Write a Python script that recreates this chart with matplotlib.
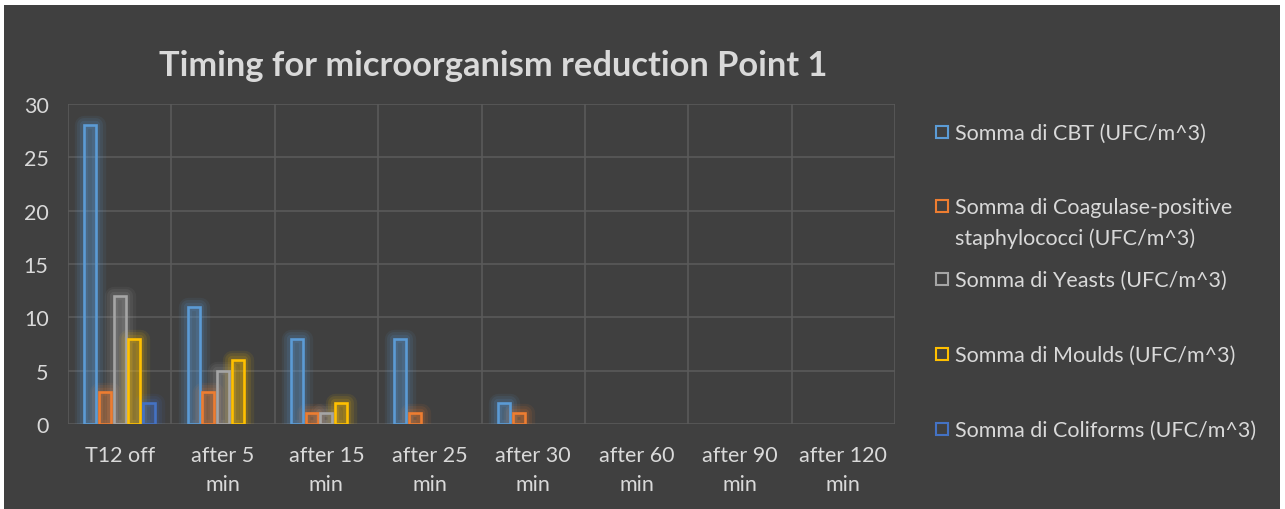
import numpy as np
import matplotlib.pyplot as plt
from matplotlib.patches import Rectangle

plt.rcParams['font.family'] = ['Lato', 'DejaVu Sans']

categories = ['T12 off', 'after 5\nmin', 'after 15\nmin', 'after 25\nmin',
              'after 30\nmin', 'after 60\nmin', 'after 90\nmin', 'after 120\nmin']
cbt = [28, 11, 8, 8, 2, 0, 0, 0]
coag = [3, 3, 1, 1, 1, 0, 0, 0]
yeasts = [12, 5, 1, 0, 0, 0, 0, 0]
moulds = [8, 6, 2, 0, 0, 0, 0, 0]
coliforms = [2, 0, 0, 0, 0, 0, 0, 0]
series = [cbt, coag, yeasts, moulds, coliforms]
names = ['Somma di CBT (UFC/m^3)',
         'Somma di Coagulase-positive\nstaphylococci (UFC/m^3)',
         'Somma di Yeasts (UFC/m^3)',
         'Somma di Moulds (UFC/m^3)',
         'Somma di Coliforms (UFC/m^3)']
colors = ['#5B9BD5', '#ED7D31', '#A5A5A5', '#FFC000', '#4472C4']

W, H = 1285, 510
bg = '#404040'
txt = '#D9D9D9'
grid = '#5A5A5A'
fs = 15.5

fig = plt.figure(figsize=(W / 100, H / 100), dpi=100, facecolor='white')
fig.add_artist(Rectangle((4 / W, 0), (1280 - 4) / W, (H - 6) / H,
                         transform=fig.transFigure, facecolor=bg,
                         edgecolor='none', zorder=0))

ax = fig.add_axes([68 / W, (H - 425) / H, (895 - 68) / W, 320 / H])
ax.set_facecolor(bg)

x = np.arange(len(categories))
pitch = 0.142
width = 0.116
for i, (vals, c) in enumerate(zip(series, colors)):
    vals = np.array(vals, dtype=float)
    keep = vals > 0
    xs = x[keep] + (i - 2) * pitch
    hs = vals[keep]
    # soft glow
    for lw, a in [(14, 0.08), (10, 0.1), (6, 0.13)]:
        ax.bar(xs, hs, width, facecolor='none', edgecolor=c, linewidth=lw,
               alpha=a, joinstyle='round', zorder=2)
    ax.bar(xs, hs, width, facecolor=c, alpha=0.25, edgecolor='none', zorder=3)
    ax.bar(xs, hs, width, facecolor='none', edgecolor=c, linewidth=1.9, zorder=4)

ax.set_xlim(-0.5, len(categories) - 0.5)
ax.set_ylim(0, 30)
ax.set_yticks(range(0, 31, 5))
ax.set_xticks(x)
ax.set_xticklabels(categories, color=txt, fontsize=fs, linespacing=1.6)
ax.set_xticks(np.arange(-0.5, len(categories), 1), minor=True)
ax.tick_params(axis='y', colors=txt, labelsize=fs, length=0, pad=14)
ax.tick_params(axis='x', which='both', length=0, pad=15)
ax.grid(axis='y', color=grid, linewidth=1.2, zorder=1)
ax.grid(axis='x', which='minor', color=grid, linewidth=1.2, zorder=1)
ax.set_axisbelow(True)
for s in ax.spines.values():
    s.set_visible(False)

fig.text(493 / W, 1 - 66 / H, 'Timing for microorganism reduction Point 1',
         color=txt, fontsize=24.8, fontweight='bold', ha='center', va='center')

# legend
ys = [133, 207, 280, 355, 430]
for y, name, c in zip(ys, names, colors):
    fig.add_artist(Rectangle((936 / W, 1 - (y + 6) / H), 12 / W, 12 / H,
                             transform=fig.transFigure, facecolor='none',
                             edgecolor=c, linewidth=1.5))
    if '\n' in name:
        fig.text(955 / W, 1 - (y - 9) / H, name, color=txt, fontsize=fs,
                 ha='left', va='top', linespacing=1.6)
    else:
        fig.text(955 / W, 1 - (y + 1) / H, name, color=txt, fontsize=fs,
                 ha='left', va='center')

fig.savefig('out.png', dpi=100, facecolor=fig.get_facecolor())
